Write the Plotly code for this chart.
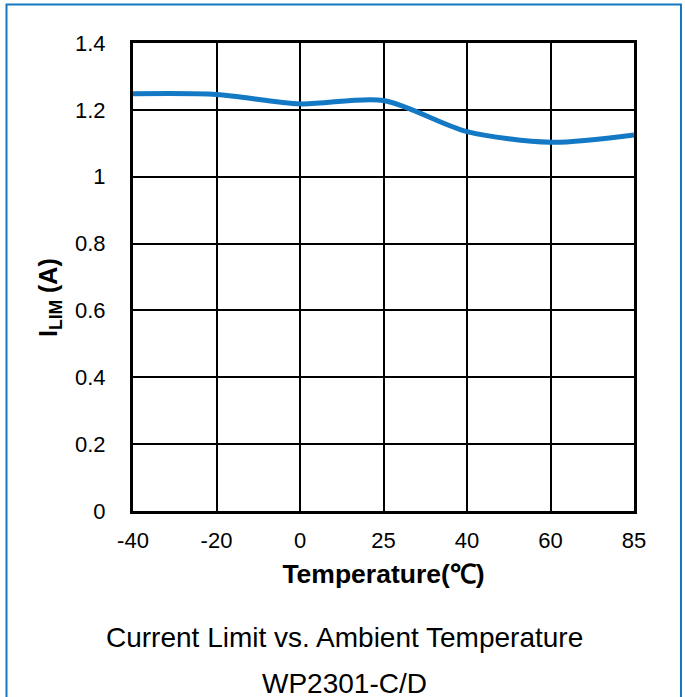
import plotly.graph_objects as go

temps = ["-40", "-20", "0", "25", "40", "60", "85"]
ilim = [1.248, 1.246, 1.218, 1.228, 1.135, 1.103, 1.125]
y_ticks = [0, 0.2, 0.4, 0.6, 0.8, 1.0, 1.2, 1.4]
y_tick_labels = ["0", "0.2", "0.4", "0.6", "0.8", "1", "1.2", "1.4"]

L, R, T, B = 133, 51, 43, 186
W, H = 685, 697
pw, ph = W - L - R, H - T - B

def px(x):
    return (x - L) / pw

def py(y):
    return (H - B - y) / ph

fig = go.Figure()
fig.add_trace(go.Scatter(
    x=list(range(len(temps))), y=ilim, mode="lines",
    line=dict(color="#1479C4", width=5, shape="spline", smoothing=0.8),
    showlegend=False, hoverinfo="skip",
))

font = "Arial, Liberation Sans, sans-serif"
fig.update_layout(
    width=W, height=H,
    margin=dict(l=L, r=R, t=T, b=B),
    paper_bgcolor="white", plot_bgcolor="white",
    font=dict(family=font, color="black", size=22),
    xaxis=dict(
        range=[0, len(temps) - 1],
        tickmode="array", tickvals=list(range(len(temps))), ticktext=temps,
        showgrid=True, gridcolor="black", gridwidth=1.5,
        showline=True, linecolor="black", linewidth=3, mirror=True,
        ticks="", zeroline=False, ticklabelstandoff=8,
        title=dict(text="<b>Temperature(℃)</b>", font=dict(size=26.5), standoff=13),
    ),
    yaxis=dict(
        range=[0, 1.4],
        tickmode="array", tickvals=y_ticks, ticktext=y_tick_labels,
        showgrid=True, gridcolor="black", gridwidth=1.5,
        showline=True, linecolor="black", linewidth=3, mirror=True,
        ticks="", zeroline=False, ticklabelstandoff=20,
    ),
    shapes=[dict(
        type="rect", xref="paper", yref="paper",
        x0=px(6.5), x1=px(681), y0=py(720), y1=py(4.5),
        line=dict(color="#1479C4", width=2), layer="below",
    )],
    annotations=[
        dict(text="<b>I<sub>LIM</sub> (A)</b>", xref="paper", yref="paper",
             x=px(50), y=py(298), showarrow=False, font=dict(size=25),
             textangle=-90, xanchor="center", yanchor="middle"),
        dict(text="Current Limit vs. Ambient Temperature", xref="paper", yref="paper",
             x=px(344), y=py(637), showarrow=False, font=dict(size=28),
             xanchor="center", yanchor="middle"),
        dict(text="WP2301-C/D", xref="paper", yref="paper",
             x=px(344), y=py(683), showarrow=False, font=dict(size=28),
             xanchor="center", yanchor="middle"),
    ],
)

fig.write_html("out.html", config={"displayModeBar": False},
               post_script="document.body.style.margin='0';document.body.style.overflow='hidden';")
